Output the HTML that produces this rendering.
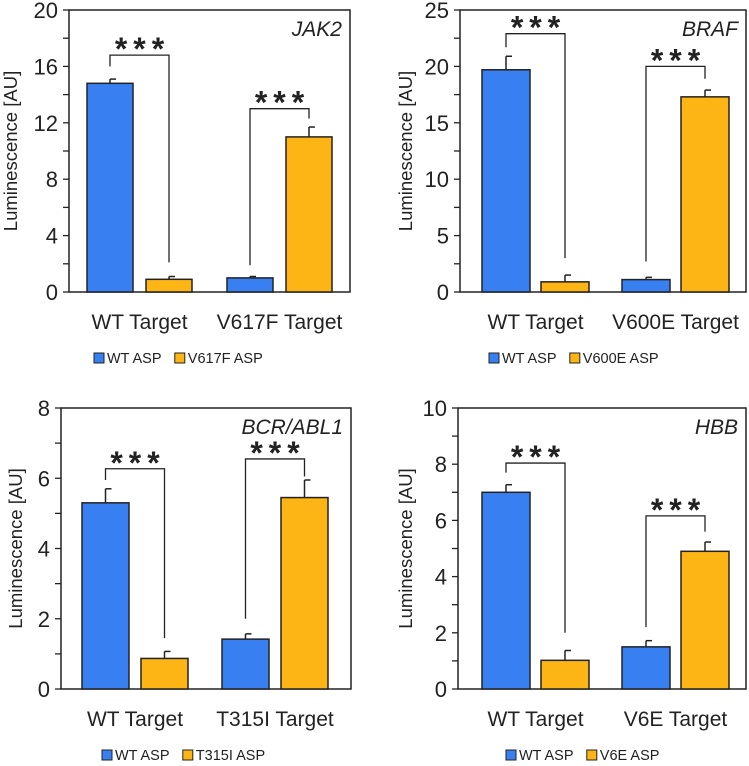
<!DOCTYPE html>
<html><head><meta charset="utf-8">
<style>
html,body{margin:0;padding:0;background:#fff;}
svg{display:block;font-family:"Liberation Sans",sans-serif;}
</style></head>
<body>
<svg id="fig" width="749" height="766" viewBox="0 0 749 766"></svg>
<script>
// ---- data ----
const categories1 = ["WT Target", "V617F Target"];
const categories2 = ["WT Target", "V600E Target"];
const categories3 = ["WT Target", "T315I Target"];
const categories4 = ["WT Target", "V6E Target"];
const series1 = ["WT ASP", "V617F ASP"];
const series2 = ["WT ASP", "V600E ASP"];
const series3 = ["WT ASP", "T315I ASP"];
const series4 = ["WT ASP", "V6E ASP"];
// values[group][series]
const jak2Values = [[14.8, 0.9], [1.0, 11.0]];
const jak2Errors = [[0.3, 0.2], [0.1, 0.7]];
const brafValues = [[19.7, 0.9], [1.1, 17.3]];
const brafErrors = [[1.2, 0.6], [0.2, 0.6]];
const bcrValues = [[5.3, 0.87], [1.42, 5.45]];
const bcrErrors = [[0.4, 0.2], [0.15, 0.5]];
const hbbValues = [[7.0, 1.02], [1.5, 4.9]];
const hbbErrors = [[0.27, 0.35], [0.22, 0.33]];
// brackets per group: [top, leftLegEnd, rightLegEnd]
const jak2Brackets = [[16.8, 16.0, 2.1], [13.0, 1.9, 12.3]];
const brafBrackets = [[22.9, 21.7, 3.0], [20.0, 2.7, 18.9]];
const bcrBrackets = [[6.27, 5.95, 1.45], [6.55, 2.0, 6.05]];
const hbbBrackets = [[8.04, 7.7, 2.0], [6.16, 2.2, 5.6]];
const jak2Ticks = [0, 4, 8, 12, 16, 20];
const brafTicks = [0, 5, 10, 15, 20, 25];
const bcrTicks = [0, 2, 4, 6, 8];
const hbbTicks = [0, 2, 4, 6, 8, 10];

const panels = [
 {name:"jak2", gene:"JAK2", cats:categories1, ser:series1, vals:jak2Values, errs:jak2Errors, br:jak2Brackets, ticks:jak2Ticks,
  L:69, T:10, R:350, B:292, pad:18, bw:46, ytx:12, legX:94},
 {name:"braf", gene:"BRAF", cats:categories2, ser:series2, vals:brafValues, errs:brafErrors, br:brafBrackets, ticks:brafTicks,
  L:460, T:10, R:746, B:292, pad:22, bw:48, ytx:407, legX:489},
 {name:"bcr-abl1", gene:"BCR/ABL1", cats:categories3, ser:series3, vals:bcrValues, errs:bcrErrors, br:bcrBrackets, ticks:bcrTicks,
  L:61, T:408, R:351, B:689, pad:21, bw:47, ytx:17, legX:102},
 {name:"hbb", gene:"HBB", cats:categories4, ser:series4, vals:hbbValues, errs:hbbErrors, br:hbbBrackets, ticks:hbbTicks,
  L:458, T:408, R:746, B:689, pad:24, bw:48, ytx:407, legX:506}
];
const colors = ["#3880f2", "#fdb516"];
const NS = "http://www.w3.org/2000/svg";
const svg = document.getElementById("fig");
function mk(tag, attrs, parent, text){
  const e = document.createElementNS(NS, tag);
  for (const k in attrs) e.setAttribute(k, attrs[k]);
  if (text !== undefined) e.textContent = text;
  parent.appendChild(e);
  return e;
}
panels.forEach(p => {
  const g = mk("g", {}, svg);
  
  
  const maxV = p.ticks[p.ticks.length-1];
  const y = v => p.B - v/maxV*(p.B-p.T);
  const barStep = 59, groupStep = 140;
  const bx = (gi, si) => p.L + p.pad + gi*groupStep + si*barStep;
  const bc = (gi, si) => bx(gi, si) + p.bw/2;
  const fr = mk("rect", {x:p.L, y:p.T, width:p.R-p.L, height:p.B-p.T, fill:"none", stroke:"#222", "stroke-width":1.5}, g);
  
  
  const step = p.ticks[1]-p.ticks[0];
  for (let i=0;i<p.ticks.length;i++){
    const t = p.ticks[i];
    mk("line", {x1:p.L-6, x2:p.L, y1:y(t), y2:y(t), stroke:"#222","stroke-width":1.3}, g);
    if (i < p.ticks.length-1) mk("line", {x1:p.L-6, x2:p.L, y1:y(t+step/2), y2:y(t+step/2), stroke:"#222","stroke-width":1.3}, g);
    const tl = mk("text", {x:p.L-11, y:y(t)+8, "text-anchor":"end", "font-size":22, fill:"#222"}, g, String(t));
    
    
  }
  const cy = (p.T+p.B)/2;
  const yt = mk("text", {x:p.ytx, y:cy, "text-anchor":"middle", "font-size":18.5, fill:"#222",
     transform:`rotate(-90 ${p.ytx} ${cy})`, "dominant-baseline":"middle"}, g, "Luminescence [AU]");
  
  
  const gt = mk("text", {x:p.R-8, y:p.T+26, "text-anchor":"end", "font-size":21, "font-style":"italic", fill:"#222"}, g, p.gene);
  
  
  p.vals.forEach((grp, gi) => {
    grp.forEach((v, si) => {
      const e = p.errs[gi][si];
      const xc = bc(gi, si);
      const el = mk("line", {x1:xc, x2:xc, y1:y(v), y2:y(v+e), stroke:"#222","stroke-width":1.5}, g);
      
      
      mk("line", {x1:xc, x2:xc+6, y1:y(v+e), y2:y(v+e), stroke:"#222","stroke-width":1.5}, g);
      const r = mk("rect", {x:bx(gi, si), y:y(v), width:p.bw, height:p.B-y(v), fill:colors[si], stroke:"#222","stroke-width":1.5}, g);
      
      
    });
    const b = p.br[gi];
    const xl = bc(gi,0), xr = bc(gi,1);
    const br = mk("path", {d:`M${xl},${y(b[1])} L${xl},${y(b[0])} L${xr},${y(b[0])} L${xr},${y(b[2])}`, fill:"none", stroke:"#222","stroke-width":1.3}, g);
    
    
    const st = mk("text", {x:(xl+xr)/2+3, y:y(b[0])+5, "text-anchor":"middle", "font-size":32, "font-weight":"bold", fill:"#222", "letter-spacing":"6"}, g, "***");
    
    
    const cl = mk("text", {x:(bx(gi,0)+bx(gi,1)+p.bw)/2, y:p.B+37, "text-anchor":"middle", "font-size":21, fill:"#222"}, g, p.cats[gi]);
    
    
  });
  let lx = p.legX;
  const ly = p.B + 66;
  p.ser.forEach((s, si) => {
    const sq = mk("rect", {x:lx, y:ly-5, width:10, height:10, fill:colors[si], stroke:"#222","stroke-width":1}, g);
    
    
    const lt = mk("text", {x:lx+13, y:ly+5, "font-size":14.5, fill:"#222"}, g, s);
    
    
    lx += 13 + s.length*8.3 + 18;
  });
});
</script>
</body></html>
